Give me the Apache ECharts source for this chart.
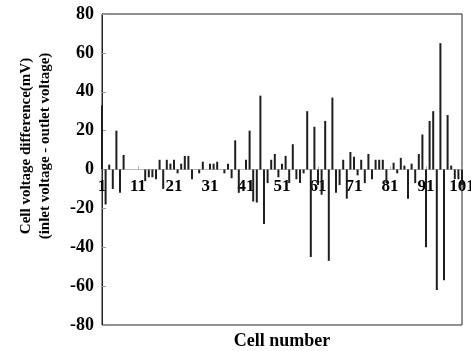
<!DOCTYPE html>
<html>
<head>
<meta charset="utf-8">
<script src="https://cdn.jsdelivr.net/npm/echarts@6/dist/echarts.min.js"></script>
<style>
  html, body { margin: 0; padding: 0; background: #fff; }
  #cellchart { width: 471px; height: 351px; }
</style>
</head>
<body>
<div id="cellchart"></div>
<script>
// cell numbers 1..101
let cellNumbers = [];
for (let i = 1; i <= 101; i++) cellNumbers.push(String(i));

// inlet - outlet voltage difference per cell (mV)
let voltageDiff = [
  33, -18, 2.5, -10, 20, -12, 7.5, 0, 0, 0,
  0, 0, -6, -4, -4, -5, 5, -10, 5, 3,
  5, -2, 3, 7, 7, -5, 0, -2, 4, 0,
  3, 3, 4, 0, -2, 3, -4.5, 15, -12, 0,
  5, 20, -16.5, -17, 38, -28, -7, 5, 8, -4,
  3, 7, -7, 13, -5, -7, -2, 30, -45, 22,
  -8, -13, 25, -47, 37, -12, -8, 5, -15, 9,
  6.5, -3, 5, -7, 8, -5, 5, 5, 5, -7,
  0, 3.5, -2, 6, 2, -15, 3, -7, 8, 18,
  -40, 25, 30, -62, 65, -57, 28, 2, -5, -5,
  -8
];

let yTicks = { min: -80, max: 80, step: 20 };

let chart = echarts.init(document.getElementById("cellchart"));
let serif = "'Liberation Serif', 'Times New Roman', serif";
let gridTop = 14, gridBottom = 26, chartH = 351;
// lift the category axis (line + labels) up onto y = 0
let zeroOffset = -(chartH - gridBottom - gridTop) / 2;
let option = {
  animation: false,
  backgroundColor: "#fff",
  grid: {
    left: 102,
    right: 9,
    top: gridTop,
    bottom: gridBottom,
    outerBoundsMode: "none",
    show: true,
    borderColor: "#222",
    borderWidth: 1
  },
  xAxis: {
    type: "category",
    data: cellNumbers,
    boundaryGap: false,
    offset: zeroOffset,
    name: "Cell number",
    nameLocation: "middle",
    nameGap: 163,
    nameTextStyle: {
      color: "#000",
      fontFamily: serif,
      fontWeight: "bold",
      fontSize: 18
    },
    axisLine: {
      onZero: false,
      lineStyle: { color: "#bbb", width: 1 }
    },
    axisTick: {
      show: true,
      inside: true,
      length: 3,
      interval: 9,
      lineStyle: { color: "#aaa" }
    },
    axisLabel: {
      interval: 9,
      margin: 9,
      color: "#000",
      fontFamily: serif,
      fontWeight: "bold",
      fontSize: 17
    },
    splitLine: { show: false }
  },
  yAxis: {
    type: "value",
    min: yTicks.min,
    max: yTicks.max,
    interval: yTicks.step,
    name: "Cell voltage difference(mV)\n(inlet voltage - outlet voltage)",
    nameLocation: "middle",
    nameGap: 47,
    nameTextStyle: {
      color: "#000",
      fontFamily: serif,
      fontWeight: "bold",
      fontSize: 15,
      lineHeight: 19,
      padding: [0, 0, 0, 47]
    },
    axisLine: { show: true, lineStyle: { color: "#222" } },
    axisTick: {
      show: true,
      inside: true,
      length: 4,
      lineStyle: { color: "#999" }
    },
    axisLabel: {
      margin: 8,
      color: "#000",
      fontFamily: serif,
      fontWeight: "bold",
      fontSize: 18
    },
    splitLine: { show: false }
  },
  series: [
    {
      name: "voltage difference",
      type: "bar",
      data: voltageDiff,
      barWidth: 2,
      itemStyle: { color: "#1e1e1e" }
    }
  ]
};
chart.setOption(option);
</script>
</body>
</html>
